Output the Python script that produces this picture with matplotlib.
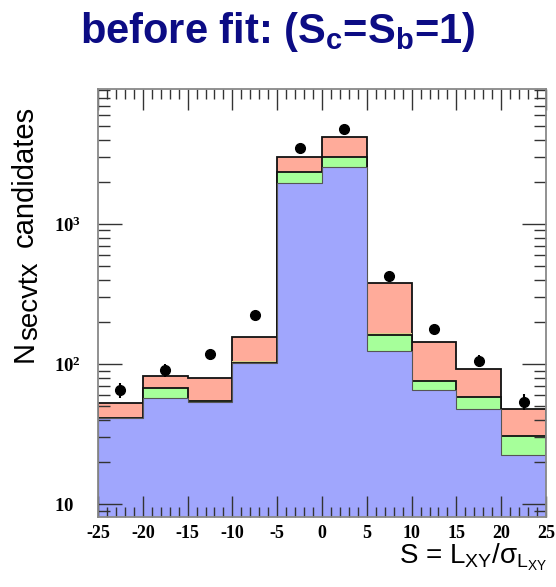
import numpy as np
import matplotlib
matplotlib.use('Agg')
from matplotlib import pyplot as plt
from matplotlib.ticker import MultipleLocator, LogLocator, NullFormatter

plt.rcParams['font.family'] = ['Liberation Sans', 'DejaVu Sans']
plt.rcParams['mathtext.fontset'] = 'custom'
plt.rcParams['mathtext.rm'] = 'Liberation Sans'
plt.rcParams['mathtext.it'] = 'Liberation Sans:italic'
plt.rcParams['mathtext.bf'] = 'Liberation Sans:bold'
plt.rcParams['mathtext.sf'] = 'Liberation Serif:bold'
plt.rcParams['mathtext.default'] = 'rm'

# bins of S = Lxy / sigma
edges = np.arange(-25, 26, 5)
# stacked components
n_light = [41, 57, 54, 101, 1955, 2540, 124, 65, 48, 22.4]
n_charm = [0.5, 10, 0.5, 1, 385, 450, 37, 11, 10, 8.2]
n_other = [0.5, 0.5, 0.5, 4, 30, 40, 6, 1, 0.5, 0.4]
n_bottom = [11, 14.5, 24, 51, 660, 1130, 214, 66, 34.5, 16.5]
n_data = [65, 91, 118, 224, 3475, 4740, 428, 178, 106, 54]

xtick_pos = np.arange(-25, 26, 5)
xtick_labels = ['-25', '-20', '-15', '-10', '-5', '0', '5', '10', '15', '20', '25']
ytick_pos = [10, 100, 1000]
ytick_labels = [r'$\mathsf{10}$', r'$\mathsf{10^{2}}$', r'$\mathsf{10^{3}}$']

lvl1 = np.array(n_light)
lvl2 = lvl1 + np.array(n_charm)
lvl3 = lvl2 + np.array(n_other)
lvl4 = lvl3 + np.array(n_bottom)
centers = 0.5 * (edges[:-1] + edges[1:])

W, H = 556, 587
fig = plt.figure(figsize=(W/100, H/100), dpi=100)
ax = fig.add_axes([98/W, 1-517/H, 448/W, 428/H])
ax.set_yscale('log')

ax.stairs(lvl4, edges, fill=True, baseline=1, facecolor='#ffab9a', edgecolor='#111111', lw=1.3)
ax.stairs(lvl3, edges, fill=True, baseline=1, facecolor='#d8d08a', edgecolor='none')
ax.stairs(lvl2, edges, fill=True, baseline=1, facecolor='#a6ff9a', edgecolor='#111111', lw=1.3)
ax.stairs(lvl1, edges, fill=True, baseline=1, facecolor='#a0a6fd', edgecolor='#555555', lw=0.8)

ax.errorbar(centers, n_data, yerr=np.sqrt(n_data), fmt='o', color='k', ms=7,
            elinewidth=1.5, capsize=0)

ax.set_xlim(-25, 25)
ax.set_ylim(8.1, 9200)

ax.set_xticks(xtick_pos, labels=xtick_labels)
ax.xaxis.set_minor_locator(MultipleLocator(1))
ax.set_yticks(ytick_pos, labels=ytick_labels)
ax.yaxis.set_minor_locator(LogLocator(base=10, subs=np.arange(2, 10)))
ax.yaxis.set_minor_formatter(NullFormatter())

ax.tick_params(axis='x', which='both', direction='in', top=True, color='#333333', width=1.0)
ax.tick_params(axis='x', which='major', length=15, pad=6)
ax.tick_params(axis='x', which='minor', length=7.5)
ax.tick_params(axis='y', which='both', direction='in', right=True, color='#333333', width=1.0)
ax.tick_params(axis='y', which='major', length=17, pad=32)
ax.tick_params(axis='y', which='minor', length=8.5)
for lbl in ax.get_xticklabels():
    lbl.set_family('Liberation Serif')
    lbl.set_weight('bold')
    lbl.set_fontsize(13)
for lbl in ax.get_yticklabels():
    lbl.set_fontsize(13.5)
    lbl.set_ha('left')

for s in ax.spines.values():
    s.set_color('#888888')
    s.set_linewidth(1.3)

fig.text(0.5, 1-43/H, r'before fit: (S$_{\mathbf{c}}$=S$_{\mathbf{b}}$=1)',
         ha='center', va='baseline', fontsize=30, fontweight='bold', color='#0c0c84')

# y title: ROOT style, subscript nearly full size
ylab = dict(rotation=90, rotation_mode='anchor', ha='left', va='baseline')
fig.text(33/W, 1-362/H, 'N', fontsize=21, **ylab)
fig.text(37/W, 1-340/H, 'secvtx', fontsize=20, **ylab)
fig.text(33/W, 1-247/H, 'candidates', fontsize=21, **ylab)

fig.text(547/W, 1-541/H, r'S = L$_{\mathrm{XY}}$/$\sigma_{\mathrm{L}_{\mathrm{XY}}}$',
         ha='right', va='top', fontsize=20)

fig.savefig('out.png', dpi=100)
